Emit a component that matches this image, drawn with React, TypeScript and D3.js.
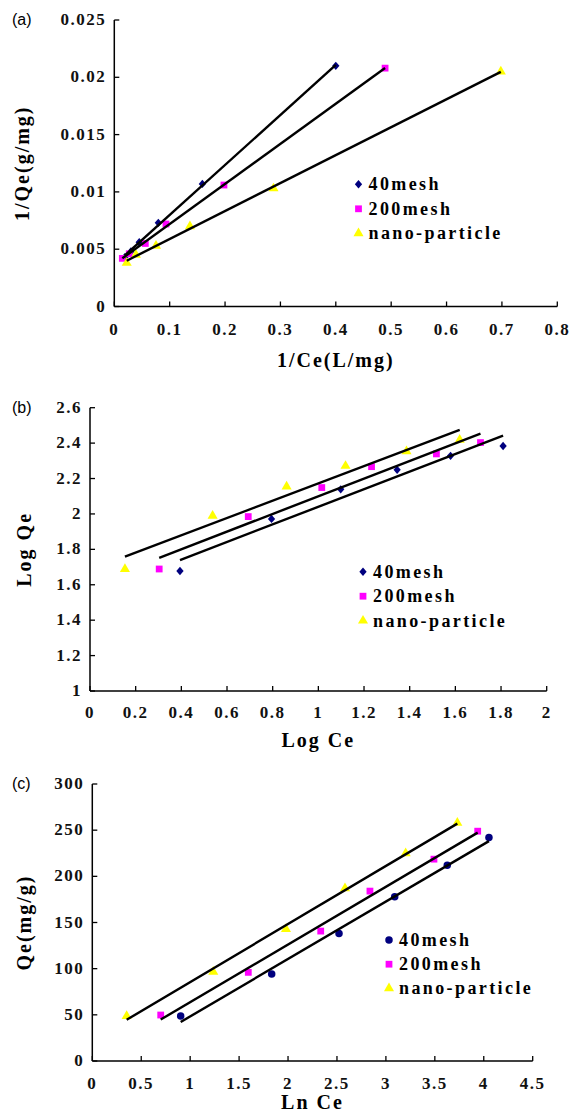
import React from "react";
import * as d3 from "d3";

// ---------- data ----------
const seriesNames = ["40mesh", "200mesh", "nano-particle"];
const seriesColors = ["#00007f", "#ff00ff", "#ffff00"];

// (a) Langmuir: 1/Ce vs 1/Qe
const aX40 = [0.019, 0.03, 0.045, 0.0795, 0.159, 0.4];
const aY40 = [0.0043, 0.0048, 0.0056, 0.0073, 0.0107, 0.021];
const aX200 = [0.0145, 0.027, 0.056, 0.0933, 0.198, 0.489];
const aY200 = [0.0042, 0.0046, 0.0055, 0.0072, 0.0106, 0.0208];
const aXnano = [0.0224, 0.039, 0.0753, 0.1366, 0.2875, 0.698];
const aYnano = [0.0038, 0.0045, 0.0053, 0.007, 0.0103, 0.0205];
const aXTicks = [0, 0.1, 0.2, 0.3, 0.4, 0.5, 0.6, 0.7, 0.8];
const aYTicks = [0, 0.005, 0.01, 0.015, 0.02, 0.025];

// (b) Freundlich: Log Ce vs Log Qe
const bX40 = [0.394, 0.795, 1.098, 1.345, 1.579, 1.809];
const bY40 = [1.678, 1.972, 2.139, 2.249, 2.328, 2.384];
const bX200 = [0.303, 0.693, 1.015, 1.233, 1.517, 1.71];
const bY200 = [1.689, 1.985, 2.149, 2.267, 2.339, 2.403];
const bXnano = [0.153, 0.537, 0.861, 1.119, 1.386, 1.619];
const bYnano = [1.688, 1.989, 2.154, 2.271, 2.354, 2.418];
const bXTicks = [0, 0.2, 0.4, 0.6, 0.8, 1, 1.2, 1.4, 1.6, 1.8, 2];
const bYTicks = [1, 1.2, 1.4, 1.6, 1.8, 2, 2.2, 2.4, 2.6];

// (c) Temkin: Ln Ce vs Qe
const cX40 = [0.903, 1.833, 2.521, 3.09, 3.627, 4.053];
const cY40 = [48.7, 94.2, 138.2, 177.8, 212.1, 242.1];
const cX200 = [0.699, 1.594, 2.334, 2.837, 3.491, 3.938];
const cY200 = [49.8, 96.0, 140.7, 184.0, 218.6, 248.9];
const cXnano = [0.351, 1.236, 1.979, 2.582, 3.202, 3.73];
const cYnano = [48.7, 96.6, 142.9, 186.9, 224.8, 258.0];
const cXTicks = [0, 0.5, 1, 1.5, 2, 2.5, 3, 3.5, 4, 4.5];
const cYTicks = [0, 50, 100, 150, 200, 250, 300];

const fmtTick = (v: number) => String(+v.toFixed(4));

const SERIF = "'Liberation Serif', 'DejaVu Serif', serif";
const SANS = "'Liberation Sans', Arial, sans-serif";

type PanelDef = {
  tag: string;
  xs: number[][];
  ys: number[][];
  xDomain: [number, number];
  yDomain: [number, number];
  xRange: [number, number];
  yRange: [number, number];
  xTicks: number[];
  yTicks: number[];
  xTitle: string;
  yTitle: string;
  xLabelDy: number;
  xTitleDy: number;
  yTitleX: number;
  legend: [number, number, number]; // marker x, first row y, row step
  firstShape: "diamond" | "circle";
};

function regression(xs: number[], ys: number[]) {
  const mx = d3.mean(xs) as number;
  const my = d3.mean(ys) as number;
  let sxy = 0,
    sxx = 0;
  xs.forEach((x, i) => {
    sxy += (x - mx) * (ys[i] - my);
    sxx += (x - mx) * (x - mx);
  });
  const slope = sxy / sxx;
  return { slope, intercept: my - slope * mx };
}

function marker(kind: string, cx: number, cy: number, color: string, key: string) {
  let sym: d3.SymbolType = d3.symbolSquare;
  let size = 46;
  let sy = 1;
  if (kind === "diamond") {
    sym = d3.symbolDiamond2;
    size = 34;
    sy = 1.15;
  } else if (kind === "circle") {
    sym = d3.symbolCircle;
    size = 44;
  } else if (kind === "triangle") {
    sym = d3.symbolTriangle;
    size = 44;
  }
  const path = d3.symbol().type(sym).size(size)() as string;
  return (
    <path key={key} d={path} transform={`translate(${cx},${cy}) scale(1,${sy})`} fill={color} />
  );
}

function Panel({ p }: { p: PanelDef }) {
  const x = d3.scaleLinear().domain(p.xDomain).range(p.xRange);
  const y = d3.scaleLinear().domain(p.yDomain).range(p.yRange);
  const shapes = [p.firstShape, "square", "triangle"];
  const x0 = p.xRange[0];
  const y0 = p.yRange[0];
  const line = d3
    .line<[number, number]>()
    .x((d) => x(d[0]))
    .y((d) => y(d[1]));
  return (
    <g>
      {/* panel tag */}
      <text x={12} y={p.yRange[1] + 5} fontFamily={SANS} fontSize={16} fill="#000">
        {p.tag}
      </text>
      {/* axes */}
      <line x1={x0} x2={p.xRange[1]} y1={y0} y2={y0} stroke="#000" strokeWidth={1.5} />
      <line x1={x0} x2={x0} y1={y0} y2={p.yRange[1]} stroke="#000" strokeWidth={1.5} />
      {p.xTicks.map((t, i) => (
        <g key={"xt" + i}>
          <line x1={x(t)} x2={x(t)} y1={y0} y2={y0 - 5} stroke="#000" strokeWidth={1.3} />
          <text
            x={x(t)}
            y={y0 + p.xLabelDy}
            textAnchor="middle"
            fontFamily={SERIF}
            fontWeight="bold"
            fontSize={17}
            letterSpacing={1.5}
            fill="#111"
          >
            {fmtTick(t)}
          </text>
        </g>
      ))}
      {p.yTicks.map((t, i) => (
        <g key={"yt" + i}>
          <line x1={x0} x2={x0 + 5} y1={y(t)} y2={y(t)} stroke="#000" strokeWidth={1.3} />
          <text
            x={x0 - 8}
            y={y(t) + 5}
            textAnchor="end"
            fontFamily={SERIF}
            fontWeight="bold"
            fontSize={17}
            letterSpacing={1.5}
            fill="#111"
          >
            {fmtTick(t)}
          </text>
        </g>
      ))}
      {/* axis titles */}
      <text
        x={(p.xRange[0] + p.xRange[1]) / 2}
        y={y0 + p.xTitleDy}
        textAnchor="middle"
        fontFamily={SERIF}
        fontWeight="bold"
        fontSize={20}
        letterSpacing={2}
        fill="#000"
      >
        {p.xTitle}
      </text>
      <text
        transform={`translate(${p.yTitleX},${(p.yRange[0] + p.yRange[1]) / 2}) rotate(-90)`}
        textAnchor="middle"
        fontFamily={SERIF}
        fontWeight="bold"
        fontSize={20}
        letterSpacing={2}
        fill="#000"
      >
        {p.yTitle}
      </text>
      {/* markers */}
      {p.xs.map((xsArr, s) =>
        xsArr.map((xv, i) => marker(shapes[s], x(xv), y(p.ys[s][i]), seriesColors[s], `m${s}-${i}`))
      )}
      {/* regression lines */}
      {p.xs.map((xsArr, s) => {
        const r = regression(xsArr, p.ys[s]);
        const lo = d3.min(xsArr) as number;
        const hi = d3.max(xsArr) as number;
        const pts: [number, number][] = [
          [lo, r.intercept + r.slope * lo],
          [hi, r.intercept + r.slope * hi],
        ];
        return (
          <path key={"l" + s} d={line(pts) as string} stroke="#000" strokeWidth={2.4} fill="none" />
        );
      })}
      {/* legend */}
      {seriesNames.map((name, s) => {
        const ly = p.legend[1] + s * p.legend[2];
        return (
          <g key={"lg" + s}>
            {marker(shapes[s], p.legend[0], ly, seriesColors[s], "lm" + s)}
            <text
              x={p.legend[0] + 10}
              y={ly + 6}
              fontFamily={SERIF}
              fontWeight="bold"
              fontSize={18}
              letterSpacing={2.4}
              fill="#000"
            >
              {name}
            </text>
          </g>
        );
      })}
    </g>
  );
}

const panels: PanelDef[] = [
  {
    tag: "(a)",
    xs: [aX40, aX200, aXnano],
    ys: [aY40, aY200, aYnano],
    xDomain: [0, 0.8],
    yDomain: [0, 0.025],
    xRange: [114.3, 557.3],
    yRange: [306.5, 20],
    xTicks: aXTicks,
    yTicks: aYTicks,
    xTitle: "1/Ce(L/mg)",
    yTitle: "1/Qe(g/mg)",
    xLabelDy: 28,
    xTitleDy: 60,
    yTitleX: 29,
    legend: [358.5, 184.3, 24.5],
    firstShape: "diamond",
  },
  {
    tag: "(b)",
    xs: [bX40, bX200, bXnano],
    ys: [bY40, bY200, bYnano],
    xDomain: [0, 2],
    yDomain: [1, 2.6],
    xRange: [90, 546.7],
    yRange: [691, 407.7],
    xTicks: bXTicks,
    yTicks: bYTicks,
    xTitle: "Log Ce",
    yTitle: "Log Qe",
    xLabelDy: 27,
    xTitleDy: 56,
    yTitleX: 31,
    legend: [363, 571.7, 24.5],
    firstShape: "diamond",
  },
  {
    tag: "(c)",
    xs: [cX40, cX200, cXnano],
    ys: [cY40, cY200, cYnano],
    xDomain: [0, 4.5],
    yDomain: [0, 300],
    xRange: [92.3, 532.7],
    yRange: [1061, 784],
    xTicks: cXTicks,
    yTicks: cYTicks,
    xTitle: "Ln Ce",
    yTitle: "Qe(mg/g)",
    xLabelDy: 28,
    xTitleDy: 48,
    yTitleX: 31,
    legend: [389, 940, 24.2],
    firstShape: "circle",
  },
];

export default function App() {
  return (
    <svg
      width={571}
      height={1114}
      style={{ position: "absolute", left: 0, top: 0, background: "#fff" }}
    >
      <rect x={0} y={0} width={571} height={1114} fill="#fff" />
      {panels.map((p, i) => (
        <Panel key={i} p={p} />
      ))}
    </svg>
  );
}
